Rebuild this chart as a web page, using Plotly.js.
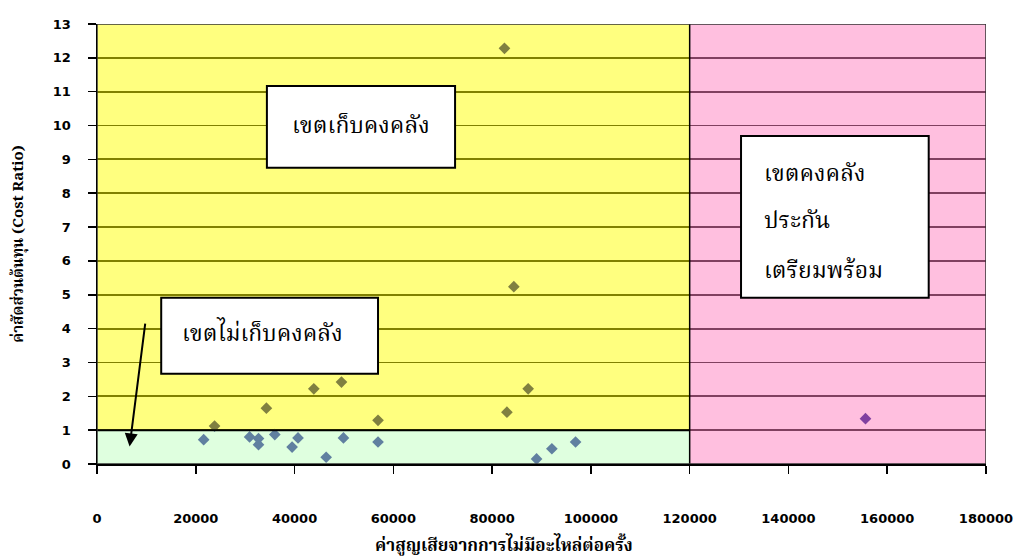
<!DOCTYPE html>
<html>
<head>
<meta charset="utf-8">
<script src="https://cdn.plot.ly/plotly-3.0.1.min.js"></script>
<style>
  html, body { margin: 0; padding: 0; background: #ffffff; }
  #chart { width: 1017px; height: 560px; }
</style>
</head>
<body>
<div id="chart"></div>
<script>
// Data
const lossPerEvent = [21600, 23800, 30900, 32700, 32700, 34300, 36000, 39500, 40700, 43900, 46400, 49500, 49900, 56900, 56900, 82500, 83000, 84400, 87300, 89000, 92100, 96900, 155600];
const costRatio    = [0.72, 1.12, 0.80, 0.75, 0.57, 1.65, 0.87, 0.50, 0.77, 2.22, 0.20, 2.42, 0.77, 1.29, 0.65, 12.28, 1.53, 5.24, 2.22, 0.15, 0.45, 0.65, 1.34];

const xTickValues = [0, 20000, 40000, 60000, 80000, 100000, 120000, 140000, 160000, 180000];
const yTickValues = [0, 1, 2, 3, 4, 5, 6, 7, 8, 9, 10, 11, 12, 13];

// Zone boundaries
const stockLimitX = 120000;
const noStockLimitY = 1;
const xMax = 180000;
const yMax = 13;

// Zone labels
const zoneStock = "เขตเก็บคงคลัง";
const zoneNoStock = "เขตไม่เก็บคงคลัง";
const zoneInsurance = ["เขตคงคลัง", "ประกัน", "เตรียมพร้อม"];

const xTitle = "ค่าสูญเสียจากการไม่มีอะไหล่ต่อครั้ง";
const yTitle = "ค่าสัดส่วนต้นทุน (Cost Ratio)";

const thaiFont = "Norasi, 'Noto Serif Thai', 'Noto Sans Thai', Loma, Garuda, serif";
const tickFont = {family: "'DejaVu Sans', sans-serif", size: 13, color: "#000", weight: "bold"};

const trace = {
  type: "scatter",
  mode: "markers",
  x: lossPerEvent,
  y: costRatio,
  marker: {symbol: "diamond", size: 9, color: "#000080", line: {width: 0}},
  hoverinfo: "x+y",
  showlegend: false
};

const shapes = [
  // translucent zone overlays (drawn above, tinting grid and markers)
  {type: "rect", xref: "x", yref: "y", x0: 0, x1: stockLimitX, y0: noStockLimitY, y1: yMax,
   fillcolor: "#ffff00", opacity: 0.5, line: {width: 0}, layer: "above"},
  {type: "rect", xref: "x", yref: "y", x0: 0, x1: stockLimitX, y0: 0, y1: noStockLimitY,
   fillcolor: "#c0ffc0", opacity: 0.5, line: {width: 0}, layer: "above"},
  {type: "rect", xref: "x", yref: "y", x0: stockLimitX, x1: xMax, y0: 0, y1: yMax,
   fillcolor: "#ff80c0", opacity: 0.5, line: {width: 0}, layer: "above"},
  // zone borders
  {type: "line", xref: "x", yref: "y", x0: 0, x1: stockLimitX, y0: noStockLimitY, y1: noStockLimitY,
   line: {color: "#000", width: 2}, layer: "above"},
  {type: "line", xref: "x", yref: "y", x0: stockLimitX, x1: stockLimitX, y0: 0, y1: yMax,
   line: {color: "#000", width: 1.5}, layer: "above"},
  // plot frame
  {type: "rect", xref: "x", yref: "y", x0: 0, x1: xMax, y0: 0, y1: yMax,
   fillcolor: "rgba(0,0,0,0)", line: {color: "#333", width: 1.5}, layer: "above"},
  // label boxes
  {type: "rect", xref: "x", yref: "y", x0: 34400, x1: 72500, y0: 8.75, y1: 11.17,
   fillcolor: "#ffffff", line: {color: "#000", width: 2}, layer: "above"},
  {type: "rect", xref: "x", yref: "y", x0: 13000, x1: 56900, y0: 2.67, y1: 4.91,
   fillcolor: "#ffffff", line: {color: "#000", width: 2}, layer: "above"},
  {type: "rect", xref: "x", yref: "y", x0: 130400, x1: 168400, y0: 4.91, y1: 9.69,
   fillcolor: "#ffffff", line: {color: "#000", width: 2}, layer: "above"}
];

const labelFont = {family: thaiFont, size: 23, color: "#000"};

const annotations = [
  {xref: "x", yref: "y", x: 53500, y: 9.96, text: zoneStock, showarrow: false,
   font: labelFont, xanchor: "center", yanchor: "middle"},
  {xref: "x", yref: "y", x: 16900, y: 3.82, text: zoneNoStock, showarrow: false,
   font: labelFont, xanchor: "left", yanchor: "middle"},
  {xref: "x", yref: "y", x: 134600, y: 8.55, text: zoneInsurance[0], showarrow: false,
   font: labelFont, xanchor: "left", yanchor: "middle"},
  {xref: "x", yref: "y", x: 134600, y: 7.16, text: zoneInsurance[1], showarrow: false,
   font: labelFont, xanchor: "left", yanchor: "middle"},
  {xref: "x", yref: "y", x: 134600, y: 5.68, text: zoneInsurance[2], showarrow: false,
   font: labelFont, xanchor: "left", yanchor: "middle"},
  // arrow pointing into the no-stock zone
  {xref: "x", yref: "y", axref: "x", ayref: "y", x: 6600, y: 0.52, ax: 9800, ay: 4.19,
   text: "", showarrow: true, arrowhead: 2, arrowsize: 1.3, arrowwidth: 2, arrowcolor: "#000"},
  // x-axis title (centred on the whole chart, as in the reference)
  {xref: "paper", yref: "paper", x: 0.458, y: -0.188, text: xTitle, showarrow: false,
   font: {family: thaiFont, size: 17, color: "#000", weight: "bold"}, xanchor: "center", yanchor: "middle"}
];

const layout = {
  width: 1017,
  height: 560,
  margin: {l: 96.5, r: 31, t: 24, b: 95.7, pad: 0},
  paper_bgcolor: "#ffffff",
  plot_bgcolor: "#ffffff",
  showlegend: false,
  xaxis: {
    range: [0, xMax],
    tickvals: xTickValues,
    ticktext: xTickValues.map(v => String(v)),
    ticks: "outside", ticklen: 8, tickwidth: 1.5, tickcolor: "#000",
    showline: true, linecolor: "#000", linewidth: 1.5,
    showgrid: false, zeroline: false,
    tickfont: tickFont,
    ticklabelstandoff: 34,
    fixedrange: true
  },
  yaxis: {
    range: [0, yMax],
    tickvals: yTickValues,
    ticktext: yTickValues.map(v => String(v)),
    ticks: "outside", ticklen: 8, tickwidth: 1.5, tickcolor: "#000",
    showline: true, linecolor: "#000", linewidth: 1.5,
    showgrid: true, gridcolor: "#000", gridwidth: 1.8,
    zeroline: false,
    tickfont: tickFont,
    ticklabelstandoff: 14,
    title: {text: yTitle, font: {family: thaiFont, size: 15, color: "#000", weight: "bold"}, standoff: 25},
    fixedrange: true
  },
  shapes: shapes,
  annotations: annotations
};

Plotly.newPlot("chart", [trace], layout, {displayModeBar: false, staticPlot: true});
</script>
</body>
</html>
